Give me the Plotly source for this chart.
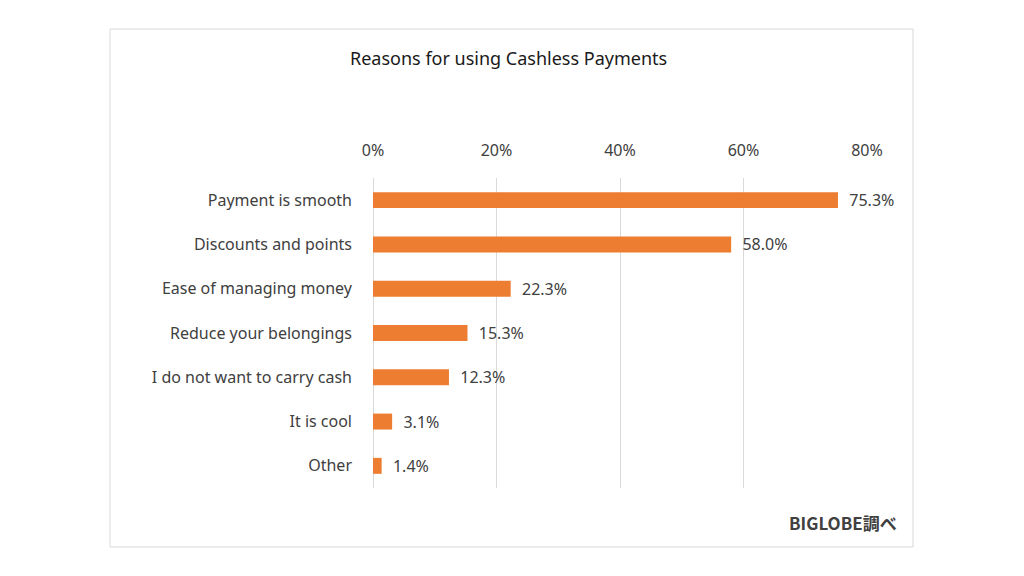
import plotly.graph_objects as go

reasons = ["Payment is smooth", "Discounts and points", "Ease of managing money",
           "Reduce your belongings", "I do not want to carry cash", "It is cool", "Other"]
shares = [0.753, 0.580, 0.223, 0.153, 0.123, 0.031, 0.014]
share_labels = ["75.3%", "58.0%", "22.3%", "15.3%", "12.3%", "3.1%", "1.4%"]

W, H = 1024, 576
orange = "#ED7D31"
grey_text = "#404040"

fig = go.Figure(go.Bar(
    x=shares,
    y=reasons,
    orientation="h",
    marker=dict(color=orange, line=dict(width=0)),
    width=0.36,
    text=share_labels,
    texttemplate="  %{text}",
    textposition="outside",
    constraintext="none",
    textfont=dict(size=16, color=grey_text),
    cliponaxis=False,
    hoverinfo="skip",
))

fig.update_layout(
    width=W, height=H,
    margin=dict(l=0, r=0, t=0, b=0, autoexpand=False),
    paper_bgcolor="white",
    plot_bgcolor="white",
    font=dict(family="Noto Sans, sans-serif", size=16, color=grey_text),
    showlegend=False,
    xaxis=dict(
        domain=[373 / W, 867 / W],
        range=[0, 0.8],
        side="top",
        tickformat=".0%",
        dtick=0.2,
        showgrid=True,
        gridcolor="#D9D9D9",
        gridwidth=1,
        zeroline=True,
        zerolinecolor="#D9D9D9",
        zerolinewidth=1,
        showline=False,
        ticks="",
        automargin=False,
        ticklabelstandoff=18,
        tickfont=dict(size=16, color=grey_text),
    ),
    yaxis=dict(
        domain=[1 - 488 / H, 1 - 178 / H],
        autorange="reversed",
        showgrid=False,
        ticks="",
        showline=False,
        automargin=False,
        ticklabelstandoff=20,
        tickfont=dict(size=16, color=grey_text),
    ),
    shapes=[dict(
        type="rect", xref="paper", yref="paper",
        x0=110 / W, x1=913 / W, y0=1 - 547 / H, y1=1 - 29 / H,
        line=dict(color="#D9D9D9", width=1), fillcolor="rgba(0,0,0,0)",
        layer="below",
    )],
    annotations=[
        dict(text="Reasons for using Cashless Payments", xref="paper", yref="paper",
             x=508 / W, y=1 - 58 / H, xanchor="center", yanchor="middle",
             showarrow=False, font=dict(size=18, color="#1a1a1a")),
        dict(text="<b>BIGLOBE調べ</b>", xref="paper", yref="paper",
             x=899 / W, y=1 - 522 / H, xanchor="right", yanchor="middle",
             showarrow=False, font=dict(family="Noto Sans CJK JP", size=17, color="#404040")),
    ],
)

fig.write_html("out.html", config={"displayModeBar": False},
               post_script="document.body.style.margin='0';")
